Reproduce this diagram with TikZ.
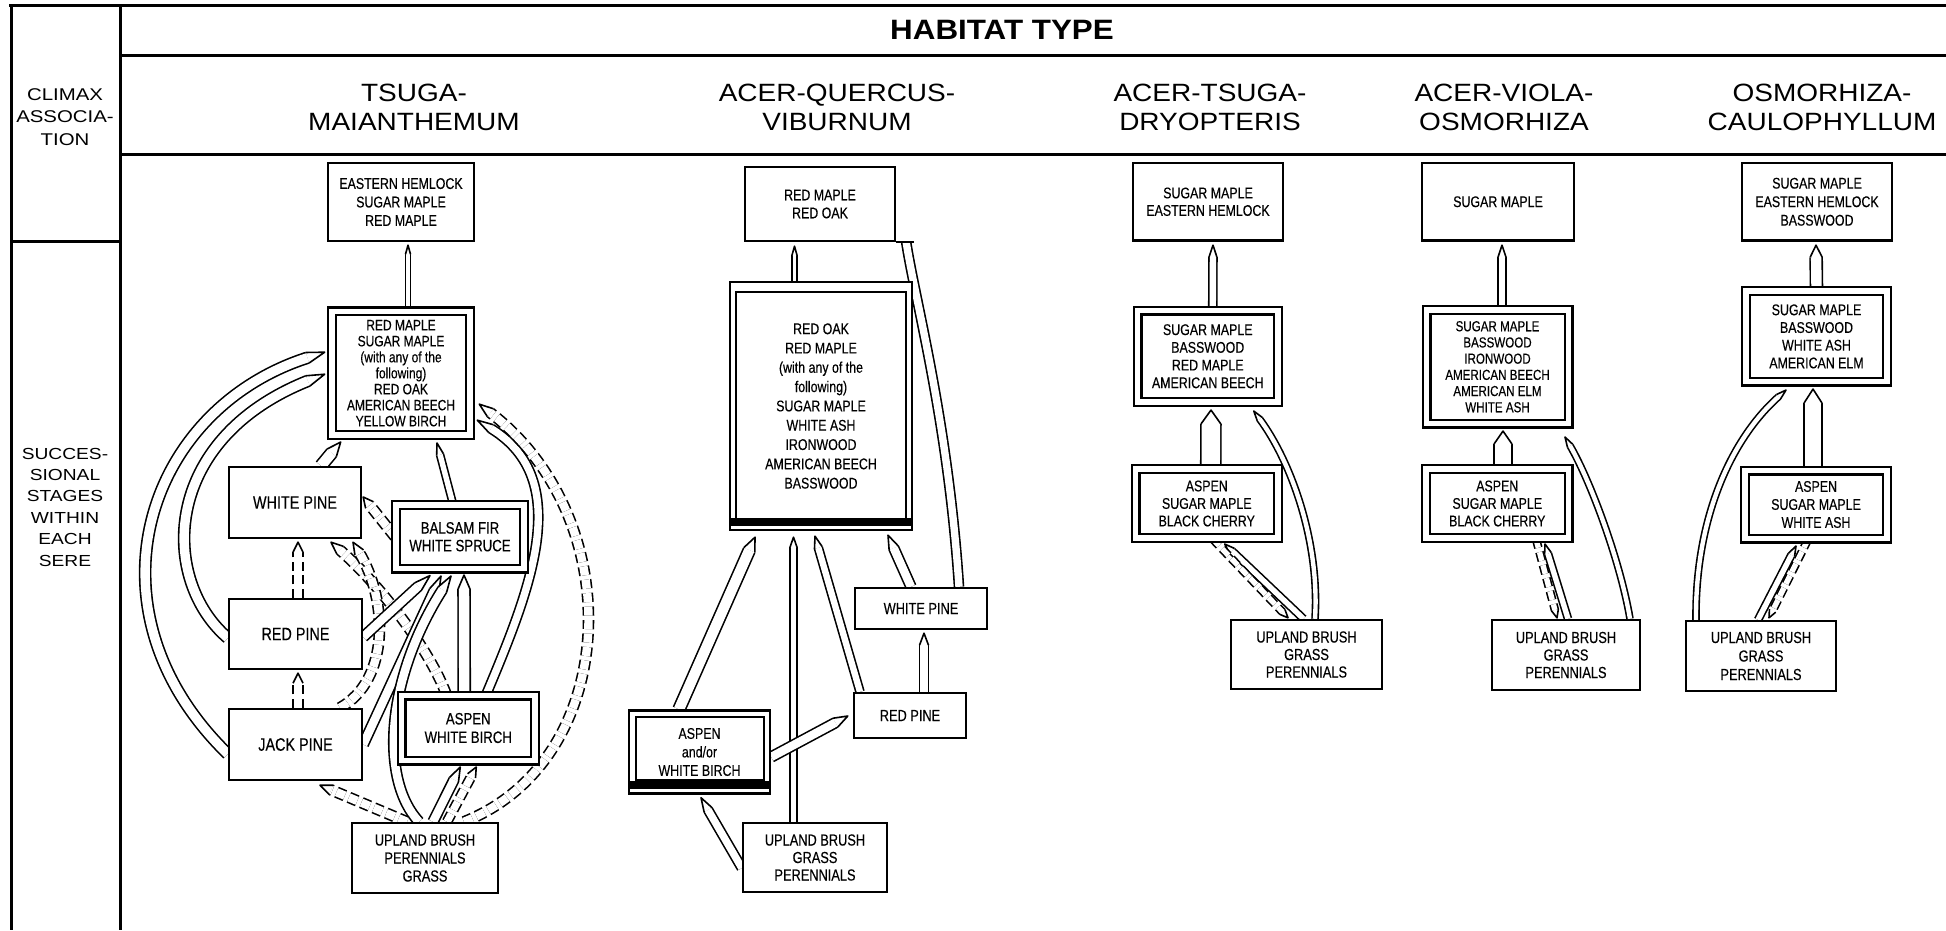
\documentclass[tikz,border=0pt]{standalone}
\usepackage{fontspec}
\setmainfont{Liberation Sans}
\newfontfamily\cf[FakeStretch=0.8, FakeBold=0.3]{Liberation Sans}
\newfontfamily\hf[FakeStretch=1.12]{Liberation Sans}
\newfontfamily\lf[FakeStretch=1.2]{Liberation Sans}
\usetikzlibrary{calc}
\pgfdeclarelayer{paper}
\pgfdeclarelayer{links}
\pgfsetlayers{paper,links,main}

\tikzset{
  tabline/.style={line width=3pt},
  box/.style={draw, line width=2.4pt, fill=white, inner sep=0pt, align=center},
  dbox/.style={draw, line width=2.1pt, double=white, double distance=5.8pt, fill=white, inner sep=0pt, align=center},
  fs/.style 2 args={font={\cf\fontsize{#1}{#2}\selectfont}},
  sz/.style 2 args={minimum width=#1pt, minimum height=#2pt},
  rail/.style={line width=1.6pt, double=white, double distance=2*#1pt-1.6pt},
  dsh/.style={dash pattern=on 9pt off 4.5pt},
  tipl/.style={line width=1.6pt, line join=round, fill=white},
}

% straight double-line arrow with a pencil tip: [style]{tail}{tip}{half width}{tip length}
\newcommand\arw[5][]{%
  \path ($(#3)!#5pt!(#2)$) coordinate (pb);
  \draw[rail=#4,#1] (#2) -- (pb);
  \filldraw[tipl] ($(pb)!#4pt!90:(#3)$) -- (#3) -- ($(pb)!#4pt!-90:(#3)$);
}
% curved double-line arrow: [style]{tail}{control 1}{control 2}{tip}{half width}{tip length}
\newcommand\arwc[7][]{%
  \path ($(#5)!#7pt!(#4)$) coordinate (pb);
  \draw[rail=#6,#1] (#2) .. controls (#3) and (#4) .. (pb);
  \filldraw[tipl] ($(pb)!#6pt!90:(#5)$) -- (#5) -- ($(pb)!#6pt!-90:(#5)$);
}

\begin{document}
\begin{tikzpicture}[x=1pt, y=-1pt]
\useasboundingbox (0,0) rectangle (1946,930);
\begin{pgfonlayer}{paper}
\fill[white] (0,0) rectangle (1946,930);
\end{pgfonlayer}

% table rules
\draw[tabline] (9,5) -- (1946,5);
\draw[tabline] (11,5) -- (11,930);
\draw[tabline] (120,5) -- (120,930);
\draw[tabline] (120,55) -- (1946,55);
\draw[tabline] (120,154) -- (1946,154);
\draw[tabline] (11,241) -- (120,241);

% headings
\node[font={\hf\bfseries\fontsize{28}{30}\selectfont}] (hab) at (1002,30) {HABITAT TYPE};
\node[font={\lf\fontsize{17}{22.5}\selectfont}, align=center] (clim) at (65,117) {CLIMAX\\ASSOCIA-\\TION};
\node[font={\lf\fontsize{16}{21.4}\selectfont}, align=center] (succ) at (65,507) {SUCCES-\\SIONAL\\STAGES\\WITHIN\\EACH\\SERE};
\begin{scope}[every node/.style={font={\hf\fontsize{25}{29}\selectfont}, align=center}]
\node (h1) at (414,107) {TSUGA-\\MAIANTHEMUM};
\node (h2) at (837,107) {ACER-QUERCUS-\\VIBURNUM};
\node (h3) at (1210,107) {ACER-TSUGA-\\DRYOPTERIS};
\node (h4) at (1504,107) {ACER-VIOLA-\\OSMORHIZA};
\node (h5) at (1822,107) {OSMORHIZA-\\CAULOPHYLLUM};
\end{scope}

% Tsuga-Maianthemum sere
\node[box, sz={146}{78}, fs={15.5}{18.5}] (t1top) at (401,202) {EASTERN HEMLOCK\\SUGAR MAPLE\\RED MAPLE};
\node[dbox, sz={138.6}{123.6}, fs={15}{16}] (t1rm) at (401,373.2) {RED MAPLE\\SUGAR MAPLE\\(with any of the\\following)\\RED OAK\\AMERICAN BEECH\\YELLOW BIRCH};
\node[box, sz={132}{71}, fs={18}{20}] (t1wp) at (295,502.5) {WHITE PINE};
\node[dbox, sz={128}{63.5}, fs={16.5}{17.7}] (t1bf) at (460,536.75) {BALSAM FIR\\WHITE SPRUCE};
\node[box, sz={133}{70}, fs={18}{20}] (t1rp) at (295.5,634) {RED PINE};
\node[box, sz={133}{71}, fs={18}{20}] (t1jp) at (295.5,744.5) {JACK PINE};
\node[dbox, sz={133.5}{65}, fs={16.5}{18.5}] (t1as) at (468.25,728) {ASPEN\\WHITE BIRCH};
\node[box, sz={146}{70}, fs={16}{18}] (t1up) at (425,858) {UPLAND BRUSH\\PERENNIALS\\GRASS};

% Acer-Quercus-Viburnum sere
\node[box, sz={150}{74}, fs={15.5}{18}] (a2top) at (820,204) {RED MAPLE\\RED OAK};
\node[box, sz={182}{248}, fs={15.5}{19.3}] (a2big) at (821,406) {RED OAK\\RED MAPLE\\(with any of the\\following)\\SUGAR MAPLE\\WHITE ASH\\IRONWOOD\\AMERICAN BEECH\\BASSWOOD};
\draw[line width=2.2pt] ($(a2big.north west)+(7,11)$) rectangle ($(a2big.south east)+(-7,-10)$);
\fill ($(a2big.south west)+(0,-13)$) rectangle ($(a2big.south east)+(0,-5)$);
\node[box, sz={132}{41}, fs={16}{18}] (a2wp) at (921,608.5) {WHITE PINE};
\node[box, sz={112}{45}, fs={16}{18}] (a2rp) at (910,715.5) {RED PINE};
\node[box, sz={141}{83}, fs={15.5}{18.5}] (a2as) at (699.5,752) {ASPEN\\and/or\\WHITE BIRCH};
\draw[line width=2.2pt] ($(a2as.north west)+(8,8)$) rectangle ($(a2as.south east)+(-7,-15)$);
\fill ($(a2as.south west)+(0,-14)$) rectangle ($(a2as.south east)+(0,-6)$);
\node[box, sz={144}{69}, fs={16}{17.5}] (a2up) at (815,857.5) {UPLAND BRUSH\\GRASS\\PERENNIALS};

% Acer-Tsuga-Dryopteris sere
\node[box, sz={150}{77.5}, fs={15.5}{17.5}] (b3top) at (1208,201.75) {SUGAR MAPLE\\EASTERN HEMLOCK};
\node[dbox, sz={140.5}{91.5}, fs={15.5}{17.7}] (b3mid) at (1207.75,356.25) {SUGAR MAPLE\\BASSWOOD\\RED MAPLE\\AMERICAN BEECH};
\node[dbox, sz={142.5}{69}, fs={15.5}{17.5}] (b3as) at (1206.75,503.5) {ASPEN\\SUGAR MAPLE\\BLACK CHERRY};
\node[box, sz={151}{69}, fs={16}{17.5}] (b3up) at (1306.5,654.5) {UPLAND BRUSH\\GRASS\\PERENNIALS};

% Acer-Viola-Osmorhiza sere
\node[box, sz={152}{77.5}, fs={15.5}{17.5}] (c4top) at (1498,201.75) {SUGAR MAPLE};
\node[dbox, sz={142}{113.5}, fs={14.5}{16.2}] (c4mid) at (1497.5,366.75) {SUGAR MAPLE\\BASSWOOD\\IRONWOOD\\AMERICAN BEECH\\AMERICAN ELM\\WHITE ASH};
\node[dbox, sz={142.5}{69}, fs={15.5}{17.5}] (c4as) at (1497.25,503.5) {ASPEN\\SUGAR MAPLE\\BLACK CHERRY};
\node[box, sz={148}{70}, fs={16}{17.5}] (c4up) at (1566,655) {UPLAND BRUSH\\GRASS\\PERENNIALS};

% Osmorhiza-Caulophyllum sere
\node[box, sz={150}{77.5}, fs={15.5}{18.5}] (d5top) at (1817,201.75) {SUGAR MAPLE\\EASTERN HEMLOCK\\BASSWOOD};
\node[dbox, sz={141}{90.25}, fs={15.5}{17.7}] (d5mid) at (1816.5,336.4) {SUGAR MAPLE\\BASSWOOD\\WHITE ASH\\AMERICAN ELM};
\node[dbox, sz={142}{68}, fs={15.5}{18}] (d5as) at (1816,504.5) {ASPEN\\SUGAR MAPLE\\WHITE ASH};
\node[box, sz={150}{70}, fs={16}{18.5}] (d5up) at (1761,656) {UPLAND BRUSH\\GRASS\\PERENNIALS};

\begin{pgfonlayer}{links}
% ---- Tsuga-Maianthemum links
\coordinate (c1a) at ($(t1rm.north)+(7,0)$);   \coordinate (c1b) at ($(t1top.south)+(7,3)$);
\arw{c1a}{c1b}{2.5}{9}
\coordinate (c2a) at ($(t1jp.west)+(0,9.5)$);  \coordinate (c2b) at ($(t1rm.west)+(-6,-21)$);
\arwc{c2a}{80,610}{145,410}{c2b}{5.5}{18}
\coordinate (c3a) at ($(t1rp.west)+(0,4)$);    \coordinate (c3b) at ($(t1rm.west)+(-6,1)$);
\arwc{c3a}{160,580}{160,440}{c3b}{5.5}{18}
\coordinate (c4a) at ($(t1wp.north)+(26,0)$);  \coordinate (c4b) at ($(t1rm.south west)+(10,6)$);
\arw{c4a}{c4b}{6}{14}
\coordinate (c5a) at ($(t1bf.north)+(-7,0)$);  \coordinate (c5b) at ($(t1rm.south)+(36,7)$);
\arw{c5a}{c5b}{3.5}{12}
\coordinate (c6a) at (t1bf.west);              \coordinate (c6b) at ($(t1wp.east)+(1,-5.5)$);
\arw[dsh]{c6a}{c6b}{5}{10}
\coordinate (c7a) at ($(t1rp.north)+(2.5,0)$); \coordinate (c7b) at ($(t1wp.south)+(3,3)$);
\arw[dsh]{c7a}{c7b}{5}{10}
\coordinate (c8a) at ($(t1jp.north)+(2.5,0)$); \coordinate (c8b) at ($(t1rp.south)+(2.5,3)$);
\arw[dsh]{c8a}{c8b}{5}{10}
\coordinate (c9a) at ($(t1as.north)+(-22,0)$); \coordinate (c9b) at ($(t1wp.south)+(36,3)$);
\arwc[dsh]{c9a}{430,650}{380,585}{c9b}{5}{12}
\coordinate (c10a) at ($(t1jp.north)+(44.5,0)$); \coordinate (c10b) at ($(t1wp.south)+(58,3)$);
\arwc[dsh]{c10a}{390,680}{388,600}{c10b}{5}{12}
\coordinate (c11a) at ($(t1rp.east)+(0,3)$);   \coordinate (c11b) at ($(t1bf.south)+(-30,6)$);
\arw{c11a}{c11b}{5}{16}
\coordinate (c12a) at (t1jp.east);             \coordinate (c12b) at ($(t1bf.south)+(-19,6.5)$);
\arw{c12a}{c12b}{5}{16}
\coordinate (c13a) at ($(t1up.north)+(-6,0)$); \coordinate (c13b) at ($(t1bf.south)+(-9,6.5)$);
\arwc{c13a}{380,780}{385,680}{c13b}{5}{16}
\coordinate (c14a) at ($(t1as.north)+(-4,0)$); \coordinate (c14b) at ($(t1bf.south)+(4,5.5)$);
\arw{c14a}{c14b}{6}{14}
\coordinate (c15a) at ($(t1as.north)+(18,0)$); \coordinate (c15b) at ($(t1rm.east)+(6,47)$);
\arwc{c15a}{530,590}{575,480}{c15b}{4.5}{16}
\coordinate (c16a) at ($(t1up.north)+(39,0)$); \coordinate (c16b) at ($(t1rm.east)+(8,31)$);
\arwc[dsh]{c16a}{620,760}{630,520}{c16b}{5}{14}
\coordinate (c17a) at ($(t1up.north)+(8,0)$);  \coordinate (c17b) at ($(t1as.south)+(-8,5.5)$);
\arw{c17a}{c17b}{5}{14}
\coordinate (c18a) at ($(t1up.north)+(22,0)$); \coordinate (c18b) at ($(t1as.south)+(8,5.5)$);
\arw[dsh]{c18a}{c18b}{4.5}{10}
\coordinate (c19a) at ($(t1up.north)+(-18,0)$); \coordinate (c19b) at ($(t1jp.south)+(24.5,4)$);
\arw[dsh]{c19a}{c19b}{5}{12}

% ---- Acer-Quercus-Viburnum links
\coordinate (d1a) at ($(a2big.north)+(-26.5,0)$); \coordinate (d1b) at ($(a2top.south)+(-25.5,4)$);
\arw{d1a}{d1b}{2.5}{9}
\coordinate (d2a) at ($(a2wp.north)+(38,0)$);  \coordinate (d2b) at ($(a2top.south east)+(10,0)$);
\coordinate (d2c) at ($(a2top.south east)+(18,0)$);
\draw[rail=4.5] (d2a) .. controls (948,420) and (915,300) .. (d2b);
\draw[line width=2.4pt] (a2top.south east) -- (d2c);
\coordinate (d3a) at ($(a2as.north)+(-20.5,0)$); \coordinate (d3b) at ($(a2big.south)+(-66,6)$);
\arw{d3a}{d3b}{6}{14}
\coordinate (d4a) at ($(a2up.north)+(-21.5,0)$); \coordinate (d4b) at ($(a2big.south)+(-27.5,6)$);
\arw{d4a}{d4b}{3.5}{10}
\coordinate (d5a) at ($(a2rp.north)+(-50,0)$); \coordinate (d5b) at ($(a2big.south)+(-6,5)$);
\arw{d5a}{d5b}{4}{12}
\coordinate (d6a) at ($(a2wp.north)+(-10,0)$); \coordinate (d6b) at ($(a2big.south)+(67,4)$);
\arw{d6a}{d6b}{5}{14}
\coordinate (d7a) at ($(a2rp.north)+(14,0)$);  \coordinate (d7b) at ($(a2wp.south)+(3,3)$);
\arw{d7a}{d7b}{4.5}{12}
\coordinate (d8a) at ($(a2as.east)+(0,5)$);    \coordinate (d8b) at ($(a2rp.west)+(-5,0.5)$);
\arw{d8a}{d8b}{5}{14}
\coordinate (d9a) at ($(a2up.west)+(0,10.5)$); \coordinate (d9b) at ($(a2as.south)+(1.5,3)$);
\arw{d9a}{d9b}{4.5}{14}

% ---- Acer-Tsuga-Dryopteris links
\coordinate (e1a) at ($(b3mid.north)+(5,0)$);  \coordinate (e1b) at ($(b3top.south)+(5,3.5)$);
\arw{e1a}{e1b}{4}{12}
\coordinate (e2a) at ($(b3as.north)+(4,0)$);   \coordinate (e2b) at ($(b3mid.south)+(3.25,7)$);
\arw{e2a}{e2b}{10}{14}
\coordinate (e3a) at ($(b3up.north)+(8.5,0)$); \coordinate (e3b) at ($(b3mid.south)+(46,8)$);
\arwc{e3a}{1320,540}{1290,460}{e3b}{3}{10}
\coordinate (e4a) at ($(b3up.north)+(-3,0)$);  \coordinate (e4b) at ($(b3as.south)+(18,5)$);
\arw{e4a}{e4b}{3.5}{10}
\coordinate (e5a) at ($(b3as.south)+(6,0)$);   \coordinate (e5b) at ($(b3up.north)+(-18.5,-1)$);
\arw[dsh]{e5a}{e5b}{3.5}{8}

% ---- Acer-Viola-Osmorhiza links
\coordinate (f1a) at ($(c4mid.north)+(4.5,0)$); \coordinate (f1b) at ($(c4top.south)+(4,3.5)$);
\arw{f1a}{f1b}{4}{12}
\coordinate (f2a) at ($(c4as.north)+(5.75,0)$); \coordinate (f2b) at ($(c4mid.south)+(5.5,6.5)$);
\arw{f2a}{f2b}{9}{13}
\coordinate (f3a) at ($(c4up.north)+(64,0)$);  \coordinate (f3b) at ($(c4mid.south)+(67.5,12.5)$);
\arwc{f3a}{1620,560}{1590,480}{f3b}{3}{10}
\coordinate (f4a) at ($(c4up.north)+(2,0)$);   \coordinate (f4b) at ($(c4as.south)+(47.75,5)$);
\arw{f4a}{f4b}{3.5}{10}
\coordinate (f5a) at ($(c4as.south)+(38.75,0)$); \coordinate (f5b) at ($(c4up.north)+(-9,-1)$);
\arw[dsh]{f5a}{f5b}{3.5}{8}

% ---- Osmorhiza-Caulophyllum links
\coordinate (g1a) at (d5mid.north);            \coordinate (g1b) at ($(d5top.south)+(-1,3.5)$);
\arw{g1a}{g1b}{6}{12}
\coordinate (g2a) at ($(d5as.north)+(-3,0)$);  \coordinate (g2b) at ($(d5mid.south)+(-3.5,6.5)$);
\arw{g2a}{g2b}{9}{14}
\coordinate (g3a) at ($(d5up.north)+(-65,0)$); \coordinate (g3b) at ($(d5mid.south)+(-30.5,7.5)$);
\arwc{g3a}{1695,520}{1730,440}{g3b}{3}{10}
\coordinate (g4a) at ($(d5up.north)+(-3,0)$);  \coordinate (g4b) at ($(d5as.south)+(-20,6.5)$);
\arw{g4a}{g4b}{3.5}{10}
\coordinate (g5a) at ($(d5as.south)+(-8,0)$);  \coordinate (g5b) at ($(d5up.north)+(8,-2)$);
\arw[dsh]{g5a}{g5b}{3.5}{8}
\end{pgfonlayer}
\end{tikzpicture}
\end{document}
